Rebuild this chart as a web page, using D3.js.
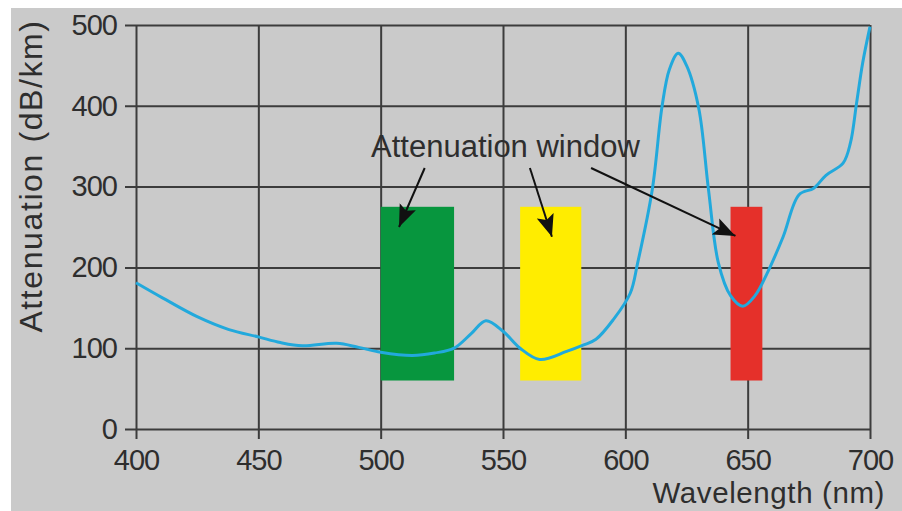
<!DOCTYPE html>
<html>
<head>
<meta charset="utf-8">
<style>
  body { margin: 0; background: #fff; }
  svg { display: block; font-family: "Liberation Sans", Arial, sans-serif; }
  .tick text { fill: #2e2e2e; font-size: 29px; letter-spacing: -1px; }
  .grid line { stroke: #3c3c3c; stroke-width: 2px; }
</style>
<script src="https://d3js.org/d3.v7.min.js"></script>
</head>
<body>
<script>
// wavelength (nm) and attenuation (dB/km)
var wavelength = [400, 411, 425, 438, 450, 459, 468, 482, 491, 500, 513, 522, 530, 537, 543, 550, 557, 565, 576, 583, 588, 595, 602, 605, 611, 615, 618, 621.6, 625, 630, 634, 638, 643, 648, 653, 658, 664.5, 671, 677, 682, 689, 692, 694.5, 697, 700];
var attenuation = [181, 162, 139, 123, 114, 107, 103, 106, 101, 95, 91, 94, 100, 118, 134, 121, 100, 86, 96, 104, 111, 135, 168, 205, 296, 399, 445, 465, 450, 397, 296, 206, 165, 152, 165, 193, 238, 290, 298, 314, 329, 354, 403, 453, 498];

// attenuation windows: start/end wavelength, low/high attenuation
var windowNames = ["green", "yellow", "red"];
var windowStart = [500, 557, 643];
var windowEnd = [530, 582, 656];
var windowLow = [60, 60, 60];
var windowHigh = [275, 275, 275];
var windowColors = ["#07963e", "#ffed00", "#e5302a"];

var xTicks = [400, 450, 500, 550, 600, 650, 700];
var yTicks = [0, 100, 200, 300, 400, 500];

// annotation arrows in data units
var arrowFrom = [[518, 323], [561, 323], [586, 323]];
var arrowTo = [[507.5, 250], [570, 238], [645, 239]];

var W = 902, H = 511;
var margin = {top: 25, right: 32, bottom: 82, left: 136};
var w = 870 - 136, h = 429 - 25;

var svg = d3.select("body").append("svg")
  .attr("width", W).attr("height", H);

svg.append("rect")
  .attr("x", 11).attr("y", 8)
  .attr("width", W - 11).attr("height", H - 8)
  .attr("fill", "#cacaca");

var defs = svg.append("defs");
defs.append("marker")
  .attr("id", "head")
  .attr("markerUnits", "userSpaceOnUse")
  .attr("viewBox", "0 0 20 16")
  .attr("refX", 20).attr("refY", 8)
  .attr("markerWidth", 22).attr("markerHeight", 18)
  .attr("orient", "auto")
  .append("path")
  .attr("d", "M0,0 L20,8 L0,16 L4,8 Z")
  .attr("fill", "#111");

var g = svg.append("g")
  .attr("transform", "translate(" + margin.left + "," + margin.top + ")");

var x = d3.scaleLinear().domain([400, 700]).range([0, w]);
var y = d3.scaleLinear().domain([0, 500]).range([h, 0]);

var yAxis = g.append("g")
  .attr("class", "grid")
  .call(d3.axisLeft(y).tickValues(yTicks).tickSize(11).tickPadding(8));
yAxis.select(".domain").remove();
yAxis.selectAll(".tick line").attr("x2", -11).attr("x1", w);

var xAxis = g.append("g")
  .attr("class", "grid")
  .attr("transform", "translate(0," + h + ")")
  .call(d3.axisBottom(x).tickValues(xTicks).tickSize(10).tickPadding(8));
xAxis.select(".domain").remove();
xAxis.selectAll(".tick line").attr("y1", -h);
xAxis.selectAll(".tick text").attr("dy", "0.8em");

// windows sit on top of the grid
g.selectAll(".win")
  .data(windowNames)
  .enter().append("rect")
  .attr("class", "win")
  .attr("x", function (d, i) { return x(windowStart[i]); })
  .attr("y", function (d, i) { return y(windowHigh[i]); })
  .attr("width", function (d, i) { return x(windowEnd[i]) - x(windowStart[i]); })
  .attr("height", function (d, i) { return y(windowLow[i]) - y(windowHigh[i]); })
  .attr("fill", function (d, i) { return windowColors[i]; });

var line = d3.line()
  .x(function (d, i) { return x(wavelength[i]); })
  .y(function (d) { return y(d); })
  .curve(d3.curveCatmullRom.alpha(0.5));

g.append("path")
  .datum(attenuation)
  .attr("d", line)
  .attr("fill", "none")
  .attr("stroke", "#22a9dc")
  .attr("stroke-width", 3);

g.selectAll(".arrow")
  .data(arrowFrom)
  .enter().append("line")
  .attr("class", "arrow")
  .attr("x1", function (d) { return x(d[0]); })
  .attr("y1", function (d) { return y(d[1]); })
  .attr("x2", function (d, i) { return x(arrowTo[i][0]); })
  .attr("y2", function (d, i) { return y(arrowTo[i][1]); })
  .attr("stroke", "#111")
  .attr("stroke-width", 2)
  .attr("marker-end", "url(#head)");

g.append("text")
  .attr("x", x(551))
  .attr("y", y(337))
  .attr("text-anchor", "middle")
  .attr("fill", "#2e2e2e")
  .style("font-size", "31px")
  .text("Attenuation window");

svg.append("text")
  .attr("x", 885)
  .attr("y", 503)
  .attr("text-anchor", "end")
  .attr("fill", "#2e2e2e")
  .style("font-size", "29.5px")
  .style("letter-spacing", "0.6px")
  .text("Wavelength (nm)");

svg.append("text")
  .attr("transform", "translate(42,176) rotate(-90)")
  .attr("text-anchor", "middle")
  .attr("fill", "#2e2e2e")
  .style("font-size", "32px")
  .style("letter-spacing", "1.6px")
  .text("Attenuation (dB/km)");
</script>
</body>
</html>
